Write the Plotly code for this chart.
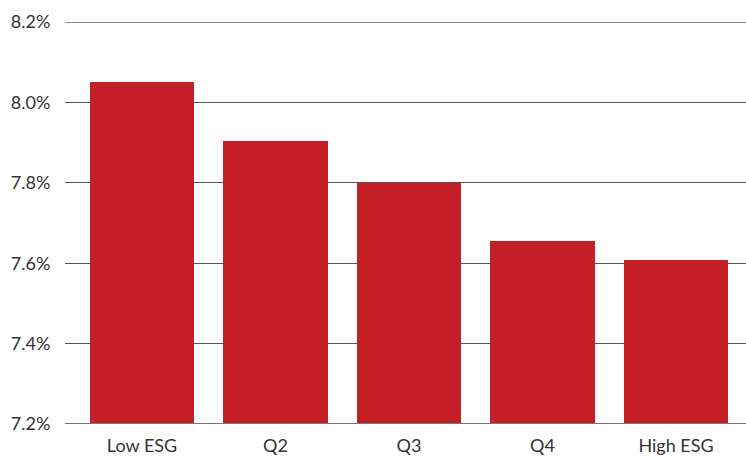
import plotly.graph_objects as go

categories = ["Low ESG", "Q2", "Q3", "Q4", "High ESG"]
returns_pct = [8.05, 7.905, 7.80, 7.655, 7.607]
tick_values = [7.2, 7.4, 7.6, 7.8, 8.0, 8.2]
tick_labels = ["7.2%", "7.4%", "7.6%", "7.8%", "8.0%", "8.2%"]
y_floor, y_ceiling = 7.2, 8.2

fig = go.Figure(
    go.Bar(
        x=list(range(len(categories))),
        y=[v - y_floor for v in returns_pct],
        base=y_floor,
        width=0.78,
        marker=dict(color="#C41F26", line=dict(width=0)),
        hovertemplate="%{x}: %{y:.2f}%<extra></extra>",
    )
)

fig.update_layout(
    width=746,
    height=459,
    margin=dict(l=65, r=0, t=22, b=35),
    paper_bgcolor="white",
    plot_bgcolor="white",
    showlegend=False,
    bargap=0,
    font=dict(family="Lato, Open Sans, sans-serif", size=18, color="#333333"),
    xaxis=dict(
        tickmode="array",
        tickvals=list(range(len(categories))),
        ticktext=categories,
        range=[-0.577, 4.524],
        showgrid=False,
        zeroline=False,
        showline=False,
        ticks="outside",
        ticklen=5,
        tickcolor="rgba(0,0,0,0)",
        tickfont=dict(size=18, color="#333333"),
        automargin=False,
    ),
    yaxis=dict(
        range=[y_floor, y_ceiling],
        tickmode="array",
        tickvals=tick_values,
        ticktext=tick_labels,
        showgrid=True,
        gridcolor="#555555",
        gridwidth=1,
        zeroline=False,
        showline=False,
        ticks="outside",
        ticklen=10,
        tickcolor="rgba(0,0,0,0)",
        tickfont=dict(size=18, color="#333333"),
        layer="below traces",
        automargin=False,
    ),
)

# top gridline and baseline sit on the range edges, so draw them explicitly
fig.add_shape(type="line", xref="paper", yref="y", x0=0, x1=1, y0=y_ceiling, y1=y_ceiling,
              line=dict(color="#666666", width=1.5), layer="below")
fig.add_shape(type="line", xref="paper", yref="y", x0=0, x1=1, y0=y_floor, y1=y_floor,
              line=dict(color="#777777", width=2), layer="above")

fig.write_html("out.html")
